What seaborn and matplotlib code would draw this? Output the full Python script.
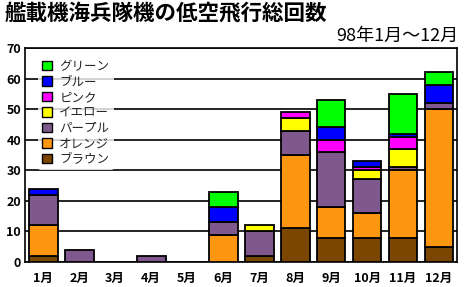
import matplotlib
matplotlib.use("Agg")
import matplotlib.pyplot as plt
import seaborn as sns
import numpy as np
import pandas as pd
from matplotlib.patches import Patch

sns.set_theme(style="white")
plt.rcParams['font.family'] = ['Noto Sans CJK JP', 'DejaVu Sans']

months = ["1月", "2月", "3月", "4月", "5月", "6月", "7月", "8月", "9月", "10月", "11月", "12月"]
brown  = [2, 0, 0, 0, 0, 0, 2, 11, 8, 8, 8, 5]
orange = [10, 0, 0, 0, 0, 9, 0, 24, 10, 8, 22, 45]
purple = [10, 4, 0, 2, 0, 4, 8, 8, 18, 11, 1, 2]
yellow = [0, 0, 0, 0, 0, 0, 2, 4, 0, 3, 6, 0]
pink   = [0, 0, 0, 0, 0, 0, 0, 2, 4, 1, 4, 0]
blue   = [2, 0, 0, 0, 0, 5, 0, 0, 4, 2, 1, 6]
green  = [0, 0, 0, 0, 0, 5, 0, 0, 9, 0, 13, 4]

series = [
    ("ブラウン", brown, "#7a4600"),
    ("オレンジ", orange, "#ff9612"),
    ("パープル", purple, "#7f588e"),
    ("イエロー", yellow, "#ffff00"),
    ("ピンク", pink, "#ff00ff"),
    ("ブルー", blue, "#0000ff"),
    ("グリーン", green, "#00ff00"),
]

fig = plt.figure(figsize=(4.65, 2.87), dpi=100)
ax = fig.add_axes([0.054, 0.087, 0.929, 0.746])

bottom = np.zeros(len(months))
for name, vals, col in series:
    vals = np.array(vals, dtype=float)
    df = pd.DataFrame({"month": months, "val": vals})
    n_before = len(ax.patches)
    sns.barplot(data=df, x="month", y="val", bottom=bottom, color=col,
                saturation=1, width=0.8, edgecolor="black", linewidth=1.3,
                ax=ax, zorder=3)
    for p in ax.patches[n_before:]:
        if p.get_height() == 0:
            p.set_visible(False)
    bottom = bottom + vals

ax.set_ylim(0, 70)
ax.set_xlim(-0.5, len(months) - 0.5)
ax.set_yticks(range(0, 71, 10))
ax.yaxis.grid(True, color="black", linewidth=1.2, zorder=0)
ax.set_axisbelow(True)
for s in ax.spines.values():
    s.set_color("black")
    s.set_linewidth(1.2)
ax.set_xlabel("")
ax.set_ylabel("")
ax.tick_params(axis="both", length=0, labelsize=9, colors="black")
ax.tick_params(axis="x", pad=7)
ax.tick_params(axis="y", pad=3)
for lbl in ax.get_xticklabels() + ax.get_yticklabels():
    lbl.set_fontweight("bold")

handles = [Patch(facecolor=c, edgecolor="black", linewidth=1.0, label=n)
           for n, v, c in series[::-1]]
leg = ax.legend(handles=handles, loc="upper left", bbox_to_anchor=(0.03, 0.965),
                frameon=True, fontsize=9, handlelength=0.75, handleheight=0.75,
                labelspacing=0.2, handletextpad=0.6, borderpad=0.35,
                borderaxespad=0.0)
leg.get_frame().set_facecolor("white")
leg.get_frame().set_edgecolor("white")
leg.get_frame().set_linewidth(0)
leg.set_zorder(5)

fig.text(0.01, 0.99, "艦載機海兵隊機の低空飛行総回数", fontsize=15.5,
         fontweight="bold", ha="left", va="top", color="black")
fig.text(0.985, 0.905, "98年1月〜12月", fontsize=13, ha="right",
         va="top", color="black")

fig.savefig("out.png", dpi=100)
